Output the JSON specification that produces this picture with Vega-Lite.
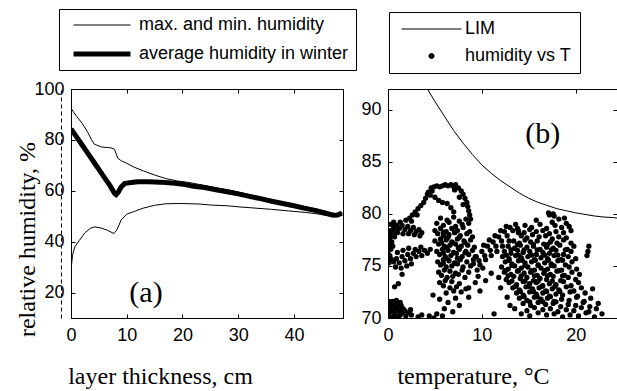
{
"$schema": "https://vega.github.io/schema/vega-lite/v6.json",
"background": "white",
"padding": {"left": 14, "top": 8, "right": 0, "bottom": 0},
"config": {
 "font": "Liberation Sans",
 "view": {"stroke": "black", "strokeWidth": 1},
 "axis": {"grid": false, "domainColor": "black", "tickColor": "black", "labelColor": "black", "labelFont": "Liberation Sans", "labelFontSize": 18, "tickSize": -4, "labelFlush": false, "labelOverlap": false, "titleFont": "Liberation Serif", "titleFontSize": 24, "titleFontWeight": "normal", "titleColor": "black"},
 "legend": {"labelFont": "Liberation Sans", "labelFontSize": 18, "labelColor": "black", "strokeColor": "black", "fillColor": "white", "labelLimit": 400}
},
"datasets": {
 "curves": [
  {"c":"max","x":0,"y":92.5},{"c":"max","x":0.5,"y":90.8},{"c":"max","x":1,"y":89.3},{"c":"max","x":2,"y":86.5},{"c":"max","x":3,"y":83},{"c":"max","x":3.7,"y":80},{"c":"max","x":4.2,"y":78.3},{"c":"max","x":5.5,"y":77.2},{"c":"max","x":6.5,"y":77},{"c":"max","x":7.3,"y":76.8},{"c":"max","x":7.8,"y":76.3},{"c":"max","x":8.4,"y":72.8},{"c":"max","x":9,"y":71.8},{"c":"max","x":10,"y":70.8},{"c":"max","x":11.3,"y":69.3},{"c":"max","x":13,"y":67.8},{"c":"max","x":15,"y":66.2},{"c":"max","x":17,"y":64.8},{"c":"max","x":19,"y":63.9},{"c":"max","x":21,"y":63.3},{"c":"max","x":23,"y":62.5},{"c":"max","x":25,"y":61.6},{"c":"max","x":27,"y":60.8},{"c":"max","x":29,"y":60},{"c":"max","x":31,"y":59},{"c":"max","x":33,"y":58},{"c":"max","x":35,"y":57},{"c":"max","x":37,"y":56},{"c":"max","x":39,"y":55.1},{"c":"max","x":41,"y":54.2},{"c":"max","x":43,"y":53.3},{"c":"max","x":45,"y":52.3},{"c":"max","x":47,"y":51.2},{"c":"max","x":48,"y":50.8},{"c":"max","x":48.7,"y":51.3},
  {"c":"min","x":0,"y":29},{"c":"min","x":0.3,"y":35},{"c":"min","x":0.7,"y":38},{"c":"min","x":1.5,"y":40.5},{"c":"min","x":2.5,"y":43.5},{"c":"min","x":3.5,"y":45.3},{"c":"min","x":4.3,"y":45.8},{"c":"min","x":5.5,"y":45.3},{"c":"min","x":6.5,"y":44.5},{"c":"min","x":7.7,"y":43.2},{"c":"min","x":8.2,"y":44.5},{"c":"min","x":9,"y":48.5},{"c":"min","x":10,"y":50.8},{"c":"min","x":11.5,"y":52},{"c":"min","x":13,"y":53.2},{"c":"min","x":15,"y":54.3},{"c":"min","x":17,"y":54.9},{"c":"min","x":20,"y":55},{"c":"min","x":23,"y":54.8},{"c":"min","x":25,"y":54.4},{"c":"min","x":28,"y":54.1},{"c":"min","x":30,"y":53.7},{"c":"min","x":33,"y":53.2},{"c":"min","x":36,"y":52.7},{"c":"min","x":39,"y":52.1},{"c":"min","x":42,"y":51.5},{"c":"min","x":44,"y":51},{"c":"min","x":46,"y":50.2},{"c":"min","x":47,"y":49.9},{"c":"min","x":48,"y":50.3},{"c":"min","x":48.7,"y":51},
  {"c":"avg","x":0,"y":84.3},{"c":"avg","x":1,"y":81.2},{"c":"avg","x":2,"y":78},{"c":"avg","x":3,"y":74.8},{"c":"avg","x":4,"y":71.6},{"c":"avg","x":5,"y":68.4},{"c":"avg","x":6,"y":65.2},{"c":"avg","x":7,"y":62},{"c":"avg","x":7.8,"y":59},{"c":"avg","x":8.1,"y":58.5},{"c":"avg","x":8.5,"y":59.5},{"c":"avg","x":9,"y":61.5},{"c":"avg","x":9.6,"y":62.8},{"c":"avg","x":10.5,"y":63.2},{"c":"avg","x":12,"y":63.5},{"c":"avg","x":14,"y":63.5},{"c":"avg","x":16,"y":63.4},{"c":"avg","x":18,"y":63.1},{"c":"avg","x":20,"y":62.6},{"c":"avg","x":22,"y":61.8},{"c":"avg","x":24,"y":61.3},{"c":"avg","x":26,"y":60.4},{"c":"avg","x":28,"y":59.6},{"c":"avg","x":30,"y":58.8},{"c":"avg","x":32,"y":57.8},{"c":"avg","x":34,"y":56.9},{"c":"avg","x":36,"y":55.9},{"c":"avg","x":38,"y":55},{"c":"avg","x":40,"y":54.1},{"c":"avg","x":42,"y":53.1},{"c":"avg","x":44,"y":52.2},{"c":"avg","x":46,"y":51},{"c":"avg","x":47,"y":50.4},{"c":"avg","x":47.8,"y":50.5},{"c":"avg","x":48.6,"y":51.2}
 ],
 "lim": [
  {"t":4.2,"h":92},{"t":5,"h":90.8},{"t":6,"h":89.4},{"t":7,"h":88},{"t":8,"h":86.8},{"t":9,"h":85.7},{"t":10,"h":84.7},{"t":11,"h":83.9},{"t":12,"h":83.2},{"t":13,"h":82.6},{"t":14,"h":82},{"t":15,"h":81.5},{"t":16,"h":81.1},{"t":17,"h":80.8},{"t":18,"h":80.5},{"t":19,"h":80.3},{"t":20,"h":80.1},{"t":21,"h":79.95},{"t":22,"h":79.8},{"t":23,"h":79.7},{"t":24,"h":79.65},{"t":24.4,"h":79.6}
 ],
 "lab": [
  {"p":"a","x":13.45,"y":19.8,"label":"(a)"},
  {"p":"b","x":16.5,"y":87.7,"label":"(b)"}
 ],
 "pts": [
  {"t":0.1,"h":70.2},{"t":0.3,"h":70.6},{"t":0.5,"h":70.1},{"t":0.7,"h":70.4},{"t":0.9,"h":70.2},{"t":1.1,"h":70.7},{"t":1.3,"h":70.3},{"t":0.2,"h":71.0},{"t":0.4,"h":71.3},{"t":0.6,"h":70.8},{"t":0.8,"h":71.1},{"t":1.0,"h":71.4},{"t":1.2,"h":70.9},{"t":1.4,"h":71.2},{"t":0.1,"h":71.6},{"t":0.5,"h":71.6},{"t":0.9,"h":71.7},{"t":1.3,"h":71.5},{"t":1.5,"h":70.5},{"t":0.3,"h":70.0},{"t":0.7,"h":69.9},{"t":1.1,"h":70.0},{"t":1.6,"h":70.9},{"t":0.0,"h":70.7},{"t":0.6,"h":71.4},{"t":2.2,"h":70.5},{"t":2.5,"h":70.3},{"t":2.4,"h":70.8},{"t":1.9,"h":70.2},{"t":1.8,"h":70.7},
  {"t":0.1,"h":75.3},{"t":0.2,"h":75.8},{"t":0.0,"h":76.2},{"t":0.3,"h":76.6},{"t":0.1,"h":77.0},{"t":0.4,"h":77.3},{"t":0.2,"h":77.7},{"t":0.5,"h":78.0},{"t":0.3,"h":78.4},{"t":0.6,"h":78.7},{"t":0.1,"h":78.0},{"t":0.4,"h":75.6},{"t":0.0,"h":77.5},{"t":0.2,"h":76.0},{"t":0.5,"h":76.9},{"t":0.7,"h":77.8},{"t":0.8,"h":78.4},{"t":0.3,"h":79.0},{"t":0.6,"h":79.2},
  {"t":0.9,"h":78.9},{"t":1.2,"h":78.6},{"t":1.5,"h":78.9},{"t":1.8,"h":78.5},{"t":2.1,"h":78.8},{"t":2.4,"h":78.4},{"t":2.7,"h":78.7},{"t":3.0,"h":78.3},{"t":3.3,"h":78.5},{"t":3.6,"h":78.2},{"t":1.0,"h":78.2},{"t":1.6,"h":78.1},{"t":2.2,"h":78.1},{"t":2.8,"h":78.0},{"t":3.4,"h":77.9},{"t":1.3,"h":79.2},{"t":1.9,"h":79.4},{"t":2.3,"h":79.6},{"t":2.6,"h":79.9},{"t":2.9,"h":80.2},{"t":3.2,"h":80.5},{"t":3.5,"h":80.8},{"t":3.8,"h":81.1},{"t":4.0,"h":81.5},{"t":4.2,"h":81.9},{"t":2.5,"h":79.3},{"t":3.1,"h":79.9},
  {"t":0.6,"h":75.4},{"t":0.9,"h":75.7},{"t":1.2,"h":75.3},{"t":1.5,"h":75.9},{"t":1.8,"h":75.5},{"t":2.1,"h":76.1},{"t":2.4,"h":75.7},{"t":2.7,"h":76.2},{"t":3.0,"h":75.9},{"t":3.3,"h":76.4},{"t":3.6,"h":76.0},{"t":3.9,"h":76.5},{"t":4.2,"h":76.2},{"t":4.5,"h":76.6},{"t":1.0,"h":76.3},{"t":1.6,"h":76.5},{"t":2.2,"h":76.7},{"t":2.9,"h":76.6},{"t":3.5,"h":76.8},{"t":0.8,"h":74.9},{"t":1.4,"h":74.8},{"t":2.0,"h":75.0},{"t":1.1,"h":73.3},{"t":0.7,"h":73.0},{"t":1.5,"h":74.2},{"t":2.5,"h":75.2},
  {"t":4.3,"h":82.1},{"t":4.6,"h":82.5},{"t":4.9,"h":82.6},{"t":5.2,"h":82.7},{"t":5.5,"h":82.6},{"t":5.8,"h":82.7},{"t":6.1,"h":82.8},{"t":6.4,"h":82.7},{"t":6.7,"h":82.8},{"t":7.0,"h":82.6},{"t":7.2,"h":82.8},{"t":7.5,"h":82.5},{"t":7.8,"h":82.2},{"t":8.0,"h":81.9},{"t":8.2,"h":81.5},{"t":8.4,"h":81.1},{"t":8.5,"h":80.7},{"t":8.6,"h":80.3},{"t":8.7,"h":79.9},{"t":8.8,"h":79.5},{"t":4.5,"h":81.8},{"t":4.7,"h":82.2},{"t":5.0,"h":81.6},{"t":5.4,"h":81.3},{"t":5.8,"h":81.1},{"t":6.3,"h":81.0},{"t":6.7,"h":80.6},{"t":7.0,"h":80.2},{"t":7.1,"h":82.3},{"t":7.6,"h":81.6},{"t":8.0,"h":80.9},
  {"t":5.6,"h":79.6},{"t":6.3,"h":79.4},{"t":7.0,"h":79.7},{"t":7.6,"h":79.3},{"t":8.3,"h":79.5},
  {"t":5.2,"h":79.1},{"t":5.9,"h":78.9},{"t":6.5,"h":79.2},{"t":7.2,"h":78.8},{"t":7.9,"h":79.0},{"t":8.6,"h":79.1},
  {"t":5.0,"h":78.4},{"t":5.6,"h":78.6},{"t":6.2,"h":78.3},{"t":6.8,"h":78.6},{"t":7.4,"h":78.4},{"t":8.0,"h":78.7},{"t":8.7,"h":78.3},
  {"t":5.3,"h":78.1},{"t":5.9,"h":77.9},{"t":6.5,"h":78.0},{"t":7.1,"h":78.2},{"t":7.7,"h":77.9},{"t":8.4,"h":78.1},{"t":9.0,"h":77.8},
  {"t":5.0,"h":77.4},{"t":5.6,"h":77.6},{"t":6.2,"h":77.5},{"t":6.8,"h":77.3},{"t":7.4,"h":77.6},{"t":8.1,"h":77.4},{"t":8.8,"h":77.5},
  {"t":5.4,"h":77.1},{"t":6.0,"h":76.9},{"t":6.6,"h":77.0},{"t":7.2,"h":77.1},{"t":7.8,"h":76.9},{"t":8.5,"h":77.0},{"t":9.2,"h":76.8},
  {"t":5.2,"h":76.4},{"t":5.8,"h":76.6},{"t":6.4,"h":76.5},{"t":7.0,"h":76.3},{"t":7.6,"h":76.6},{"t":8.3,"h":76.4},{"t":9.0,"h":76.5},
  {"t":5.5,"h":76.1},{"t":6.1,"h":75.9},{"t":6.7,"h":76.0},{"t":7.3,"h":76.2},{"t":7.9,"h":75.9},{"t":8.6,"h":76.1},{"t":9.3,"h":75.9},
  {"t":5.3,"h":75.4},{"t":5.9,"h":75.6},{"t":6.5,"h":75.5},{"t":7.1,"h":75.3},{"t":7.7,"h":75.6},{"t":8.4,"h":75.4},{"t":9.1,"h":75.6},
  {"t":5.6,"h":75.1},{"t":6.2,"h":74.9},{"t":6.8,"h":75.0},{"t":7.4,"h":75.2},{"t":8.0,"h":74.9},{"t":8.8,"h":75.0},
  {"t":5.4,"h":74.4},{"t":6.0,"h":74.6},{"t":6.6,"h":74.5},{"t":7.2,"h":74.3},{"t":7.9,"h":74.6},{"t":8.6,"h":74.4},
  {"t":5.7,"h":74.1},{"t":6.3,"h":73.9},{"t":6.9,"h":74.0},{"t":7.5,"h":74.2},{"t":8.2,"h":73.9},
  {"t":5.5,"h":73.4},{"t":6.1,"h":73.6},{"t":6.8,"h":73.5},{"t":7.6,"h":73.3},
  {"t":5.9,"h":73.1},{"t":6.6,"h":72.9},{"t":7.3,"h":73.0},{"t":8.3,"h":72.8},
  {"t":6.2,"h":72.4},{"t":7.0,"h":72.6},{"t":7.8,"h":72.5},
  {"t":5.9,"h":78.25},{"t":7.1,"h":78.25},{"t":6.4,"h":77.75},{"t":7.6,"h":77.75},{"t":5.7,"h":77.25},{"t":6.9,"h":77.25},{"t":8.2,"h":77.25},{"t":6.3,"h":76.75},{"t":7.5,"h":76.75},{"t":5.9,"h":76.25},{"t":7.0,"h":76.25},{"t":8.2,"h":76.25},{"t":6.2,"h":75.75},{"t":7.4,"h":75.75},{"t":5.9,"h":75.25},{"t":7.1,"h":75.25},
  {"t":4.8,"h":72.2},{"t":5.5,"h":71.8},{"t":6.4,"h":71.5},{"t":7.2,"h":71.9},{"t":6.0,"h":70.9},{"t":6.9,"h":70.6},{"t":7.6,"h":71.2},{"t":5.2,"h":70.4},{"t":4.4,"h":70.2},{"t":3.6,"h":70.3},{"t":3.2,"h":70.1},{"t":8.6,"h":72.9},{"t":9.8,"h":72.6},{"t":8.6,"h":72.0},{"t":11.3,"h":70.4},{"t":12.0,"h":72.9},{"t":4.9,"h":70.0},{"t":5.8,"h":70.2},
  {"t":9.1,"h":75.2},{"t":9.4,"h":75.9},{"t":9.7,"h":75.5},{"t":10.0,"h":76.4},{"t":10.3,"h":76.0},{"t":10.6,"h":76.9},{"t":10.9,"h":76.5},{"t":11.2,"h":77.3},{"t":11.5,"h":76.9},{"t":11.8,"h":77.8},{"t":12.1,"h":77.4},{"t":12.4,"h":78.3},{"t":12.7,"h":77.9},{"t":13.0,"h":78.7},{"t":13.3,"h":78.4},{"t":13.6,"h":79.0},{"t":13.8,"h":78.6},{"t":9.8,"h":75.1},{"t":10.4,"h":75.6},{"t":11.0,"h":76.0},{"t":11.6,"h":76.4},{"t":12.2,"h":76.9},{"t":12.9,"h":77.4},{"t":10.2,"h":77.0},{"t":10.8,"h":77.5},{"t":11.4,"h":77.9},{"t":12.0,"h":78.4},{"t":12.6,"h":78.8},{"t":9.5,"h":74.6},{"t":10.1,"h":74.8},{"t":13.9,"h":78.2},
  {"t":9.6,"h":74.0},{"t":10.4,"h":73.6},{"t":11.0,"h":74.3},{"t":9.3,"h":73.4},
  {"t":17.2,"h":79.9},{"t":17.7,"h":79.8},{"t":18.8,"h":79.6},
  {"t":15.8,"h":79.4},{"t":17.5,"h":79.2},{"t":18.2,"h":79.5},{"t":19.0,"h":79.1},
  {"t":14.6,"h":78.9},{"t":15.3,"h":78.7},{"t":16.2,"h":79.0},{"t":16.9,"h":78.6},{"t":17.8,"h":78.9},{"t":18.5,"h":78.7},{"t":19.3,"h":78.8},
  {"t":13.9,"h":78.4},{"t":14.5,"h":78.2},{"t":15.1,"h":78.5},{"t":15.8,"h":78.3},{"t":16.5,"h":78.4},{"t":17.2,"h":78.1},{"t":17.9,"h":78.3},{"t":18.7,"h":78.2},{"t":19.5,"h":78.4},
  {"t":14.2,"h":77.9},{"t":14.8,"h":77.7},{"t":15.4,"h":78.0},{"t":16.1,"h":77.8},{"t":16.8,"h":77.9},{"t":17.5,"h":77.6},{"t":18.2,"h":77.8},{"t":19.0,"h":77.7},
  {"t":13.4,"h":77.4},{"t":14.0,"h":77.2},{"t":14.6,"h":77.5},{"t":15.2,"h":77.3},{"t":15.9,"h":77.4},{"t":16.6,"h":77.1},{"t":17.3,"h":77.3},{"t":18.0,"h":77.2},{"t":18.7,"h":77.5},{"t":19.5,"h":77.2},
  {"t":12.8,"h":76.9},{"t":13.5,"h":76.7},{"t":14.1,"h":77.0},{"t":14.8,"h":76.8},{"t":15.5,"h":76.9},{"t":16.2,"h":76.6},{"t":16.9,"h":76.8},{"t":17.6,"h":76.7},{"t":18.3,"h":77.0},{"t":19.1,"h":76.6},{"t":19.8,"h":76.9},
  {"t":12.4,"h":76.4},{"t":13.1,"h":76.2},{"t":13.8,"h":76.5},{"t":14.4,"h":76.3},{"t":15.1,"h":76.4},{"t":15.8,"h":76.1},{"t":16.5,"h":76.3},{"t":17.2,"h":76.2},{"t":17.9,"h":76.5},{"t":18.7,"h":76.1},{"t":19.5,"h":76.4},
  {"t":12.2,"h":75.9},{"t":12.9,"h":75.7},{"t":13.6,"h":76.0},{"t":14.2,"h":75.8},{"t":14.9,"h":75.9},{"t":15.6,"h":75.6},{"t":16.3,"h":75.8},{"t":17.0,"h":75.7},{"t":17.7,"h":76.0},{"t":18.4,"h":75.6},{"t":19.2,"h":75.9},{"t":20.0,"h":75.7},
  {"t":12.5,"h":75.4},{"t":13.2,"h":75.2},{"t":13.9,"h":75.5},{"t":14.6,"h":75.3},{"t":15.3,"h":75.4},{"t":16.0,"h":75.1},{"t":16.7,"h":75.3},{"t":17.4,"h":75.2},{"t":18.1,"h":75.5},{"t":18.9,"h":75.1},{"t":19.6,"h":75.4},
  {"t":12.1,"h":74.9},{"t":12.8,"h":74.7},{"t":13.5,"h":75.0},{"t":14.2,"h":74.8},{"t":14.9,"h":74.9},{"t":15.6,"h":74.6},{"t":16.3,"h":74.8},{"t":17.0,"h":74.7},{"t":17.7,"h":75.0},{"t":18.5,"h":74.6},{"t":19.3,"h":74.9},{"t":20.1,"h":74.7},
  {"t":12.4,"h":74.4},{"t":13.1,"h":74.2},{"t":13.8,"h":74.5},{"t":14.5,"h":74.3},{"t":15.2,"h":74.4},{"t":15.9,"h":74.1},{"t":16.6,"h":74.3},{"t":17.3,"h":74.2},{"t":18.0,"h":74.5},{"t":18.8,"h":74.1},{"t":19.6,"h":74.4},{"t":20.4,"h":74.2},
  {"t":11.8,"h":73.9},{"t":12.6,"h":73.7},{"t":13.4,"h":74.0},{"t":14.1,"h":73.8},{"t":14.8,"h":73.9},{"t":15.5,"h":73.6},{"t":16.2,"h":73.8},{"t":16.9,"h":73.7},{"t":17.6,"h":74.0},{"t":18.4,"h":73.6},{"t":19.2,"h":73.9},{"t":20.0,"h":73.7},
  {"t":12.9,"h":73.4},{"t":13.7,"h":73.2},{"t":14.4,"h":73.5},{"t":15.1,"h":73.3},{"t":15.8,"h":73.4},{"t":16.5,"h":73.1},{"t":17.2,"h":73.3},{"t":17.9,"h":73.2},{"t":18.7,"h":73.5},{"t":19.5,"h":73.1},{"t":20.3,"h":73.4},
  {"t":13.3,"h":72.9},{"t":14.0,"h":72.7},{"t":14.7,"h":73.0},{"t":15.4,"h":72.8},{"t":16.1,"h":72.9},{"t":16.8,"h":72.6},{"t":17.5,"h":72.8},{"t":18.2,"h":72.7},{"t":19.0,"h":73.0},{"t":19.8,"h":72.6},{"t":20.6,"h":72.9},
  {"t":13.7,"h":72.4},{"t":14.4,"h":72.2},{"t":15.1,"h":72.5},{"t":15.8,"h":72.3},{"t":16.5,"h":72.4},{"t":17.2,"h":72.1},{"t":17.9,"h":72.3},{"t":18.6,"h":72.2},{"t":19.4,"h":72.5},{"t":20.2,"h":72.1},{"t":21.0,"h":72.4},
  {"t":14.0,"h":71.9},{"t":14.8,"h":71.7},{"t":15.6,"h":72.0},{"t":16.3,"h":71.8},{"t":17.0,"h":71.9},{"t":17.7,"h":71.6},{"t":18.5,"h":71.8},{"t":19.3,"h":71.7},{"t":20.1,"h":72.0},{"t":20.9,"h":71.6},{"t":21.6,"h":71.9},
  {"t":14.4,"h":71.4},{"t":15.2,"h":71.2},{"t":16.0,"h":71.5},{"t":16.8,"h":71.3},{"t":17.6,"h":71.4},{"t":18.4,"h":71.1},{"t":19.2,"h":71.3},{"t":20.0,"h":71.2},{"t":20.8,"h":71.5},{"t":21.5,"h":71.1},
  {"t":13.5,"h":70.9},{"t":14.8,"h":70.7},{"t":15.6,"h":71.0},{"t":16.5,"h":70.8},{"t":17.3,"h":70.9},{"t":18.1,"h":70.6},{"t":19.0,"h":70.8},{"t":19.8,"h":70.7},{"t":20.6,"h":71.0},{"t":21.4,"h":70.6},{"t":22.2,"h":70.9},
  {"t":14.2,"h":70.4},{"t":15.1,"h":70.2},{"t":16.0,"h":70.5},{"t":16.9,"h":70.3},{"t":17.7,"h":70.4},{"t":18.6,"h":70.1},{"t":19.4,"h":70.3},{"t":20.3,"h":70.2},{"t":21.1,"h":70.5},{"t":22.0,"h":70.1},{"t":22.8,"h":70.4},
  {"t":13.8,"h":77.05},{"t":15.5,"h":77.05},{"t":17.0,"h":77.05},
  {"t":13.1,"h":76.55},{"t":14.5,"h":76.55},{"t":15.9,"h":76.55},{"t":17.4,"h":76.55},{"t":18.9,"h":76.55},
  {"t":12.6,"h":76.05},{"t":13.9,"h":76.05},{"t":15.3,"h":76.05},{"t":16.7,"h":76.05},{"t":18.1,"h":76.05},
  {"t":12.9,"h":75.55},{"t":14.3,"h":75.55},{"t":15.7,"h":75.55},{"t":17.1,"h":75.55},{"t":18.6,"h":75.55},
  {"t":13.2,"h":75.05},{"t":14.6,"h":75.05},{"t":16.0,"h":75.05},{"t":17.4,"h":75.05},
  {"t":12.5,"h":74.55},{"t":13.9,"h":74.55},{"t":15.3,"h":74.55},{"t":16.7,"h":74.55},{"t":18.2,"h":74.55},
  {"t":12.8,"h":74.05},{"t":14.2,"h":74.05},{"t":15.6,"h":74.05},{"t":17.0,"h":74.05},{"t":18.6,"h":74.05},
  {"t":13.2,"h":73.55},{"t":14.6,"h":73.55},{"t":16.0,"h":73.55},{"t":17.5,"h":73.55},
  {"t":13.6,"h":73.05},{"t":15.0,"h":73.05},{"t":16.4,"h":73.05},{"t":17.8,"h":73.05},
  {"t":14.1,"h":72.55},{"t":15.5,"h":72.55},{"t":16.9,"h":72.55},{"t":18.3,"h":72.55},
  {"t":14.5,"h":72.05},{"t":15.9,"h":72.05},{"t":17.3,"h":72.05},
  {"t":15.1,"h":71.55},{"t":16.5,"h":71.55},{"t":17.9,"h":71.55},
  {"t":21.3,"h":76.4},{"t":21.4,"h":76.9},{"t":21.2,"h":76.0},{"t":21.8,"h":72.8},{"t":22.4,"h":71.4},{"t":17.1,"h":80.1},{"t":17.6,"h":80.0},{"t":12.7,"h":72.0},{"t":13.0,"h":71.2}
 ]
},
"bounds": "flush",
"spacing": 45,
"resolve": {"legend": {"strokeWidth": "independent", "color": "independent"}},
"hconcat": [
 {
  "width": 272, "height": 229,
  "resolve": {"axis": {"x": "independent", "y": "independent"}},
  "layer": [
   {
    "data": {"name": "curves"},
    "transform": [{"filter": "datum.c !== 'avg'"}],
    "mark": {"type": "line", "color": "black", "clip": true},
    "encoding": {
     "x": {"field": "x", "type": "quantitative", "scale": {"domain": [0, 48.8], "nice": false, "zero": false},
           "axis": {"orient": "bottom", "values": [0, 10, 20, 30, 40], "labelPadding": 12, "title": "layer thickness, cm", "titleX": 89, "titleY": 65, "titleBaseline": "alphabetic", "titleAlign": "center", "titleAnchor": null}},
     "y": {"field": "y", "type": "quantitative", "scale": {"domain": [10, 100], "nice": false, "zero": false},
           "axis": {"orient": "left", "values": [20, 40, 60, 80, 100], "labelPadding": 11, "title": "relative humidity, %", "titleX": -37, "titleY": 150, "titleAngle": 270, "titleBaseline": "alphabetic", "titleAlign": "center", "titleAnchor": null}},
     "detail": {"field": "c"},
     "strokeWidth": {"datum": "max. and min. humidity", "type": "nominal",
       "scale": {"domain": ["max. and min. humidity", "average humidity in winter"], "range": [1, 5]},
       "legend": {"orient": "none", "legendX": -12, "legendY": -80, "title": null, "symbolType": "stroke", "symbolSize": 3249, "symbolStrokeColor": "black", "clipHeight": 18, "padding": 7, "symbolOffset": 5, "labelOffset": 6, "rowPadding": 11}}
    }
   },
   {
    "data": {"name": "curves"},
    "transform": [{"filter": "datum.c === 'avg'"}],
    "mark": {"type": "line", "color": "black", "clip": true},
    "encoding": {
     "x": {"field": "x", "type": "quantitative", "axis": null},
     "y": {"field": "y", "type": "quantitative",
           "axis": {"orient": "left", "offset": 10, "domainDash": [4, 3], "labels": false, "ticks": false, "title": null}},
     "strokeWidth": {"datum": "average humidity in winter", "type": "nominal"}
    }
   },
   {
    "data": {"name": "lab"},
    "transform": [{"filter": "datum.p === 'a'"}],
    "mark": {"type": "text", "font": "Liberation Serif", "fontSize": 30, "align": "center", "baseline": "middle", "color": "black"},
    "encoding": {
     "x": {"field": "x", "type": "quantitative", "axis": {"orient": "top", "values": [0, 10, 20, 30, 40], "labels": false, "title": null}},
     "y": {"field": "y", "type": "quantitative", "axis": {"orient": "right", "values": [20, 40, 60, 80, 100], "labels": false, "title": null}},
     "text": {"field": "label"}
    }
   }
  ]
 },
 {
  "width": 229, "height": 229,
  "resolve": {"axis": {"x": "independent", "y": "independent"}},
  "layer": [
   {
    "data": {"name": "lim"},
    "mark": {"type": "line", "strokeWidth": 1, "clip": true},
    "encoding": {
     "x": {"field": "t", "type": "quantitative", "scale": {"domain": [0, 24.4], "nice": false, "zero": false},
           "axis": {"orient": "bottom", "values": [0, 10, 20], "labelPadding": 12, "title": "temperature, °C", "titleX": 85, "titleY": 65, "titleBaseline": "alphabetic", "titleAlign": "center", "titleAnchor": null}},
     "y": {"field": "h", "type": "quantitative", "scale": {"domain": [70, 92], "nice": false, "zero": false},
           "axis": {"orient": "left", "values": [70, 75, 80, 85, 90], "labelPadding": 11, "title": null}},
     "color": {"datum": "LIM", "type": "nominal",
       "scale": {"domain": ["LIM", "humidity vs T"], "range": ["black", "black"]},
       "legend": {"orient": "none", "legendX": 1, "legendY": -77, "title": null, "symbolType": "stroke", "symbolSize": 3600, "clipHeight": 18, "padding": 8, "symbolOffset": 4, "labelOffset": 3, "rowPadding": 9,
         "encode": {"symbols": {"update": {
           "shape": {"signal": "datum.value === 'LIM' ? 'M-1,0H1' : 'M-0.085,0A0.085,0.085,0,1,1,0.085,0A0.085,0.085,0,1,1,-0.085,0Z'"},
           "size": {"value": 3600},
           "fill": {"signal": "datum.value === 'LIM' ? 'transparent' : 'black'"}, "stroke": {"value": "black"}, "strokeWidth": {"value": 1}, "opacity": {"value": 1}}}}}}
    }
   },
   {
    "data": {"name": "pts"},
    "mark": {"type": "circle", "size": 28, "opacity": 1, "clip": true},
    "encoding": {
     "x": {"field": "t", "type": "quantitative", "axis": {"orient": "top", "values": [0, 10, 20], "labels": false, "title": null}},
     "y": {"field": "h", "type": "quantitative", "axis": {"orient": "right", "values": [70, 75, 80, 85, 90], "labels": false, "title": null}},
     "color": {"datum": "humidity vs T", "type": "nominal"}
    }
   },
   {
    "data": {"name": "lab"},
    "transform": [{"filter": "datum.p === 'b'"}],
    "mark": {"type": "text", "font": "Liberation Serif", "fontSize": 30, "align": "center", "baseline": "middle", "color": "black"},
    "encoding": {
     "x": {"field": "x", "type": "quantitative", "axis": null},
     "y": {"field": "y", "type": "quantitative", "axis": null},
     "text": {"field": "label"}
    }
   }
  ]
 }
]
}
